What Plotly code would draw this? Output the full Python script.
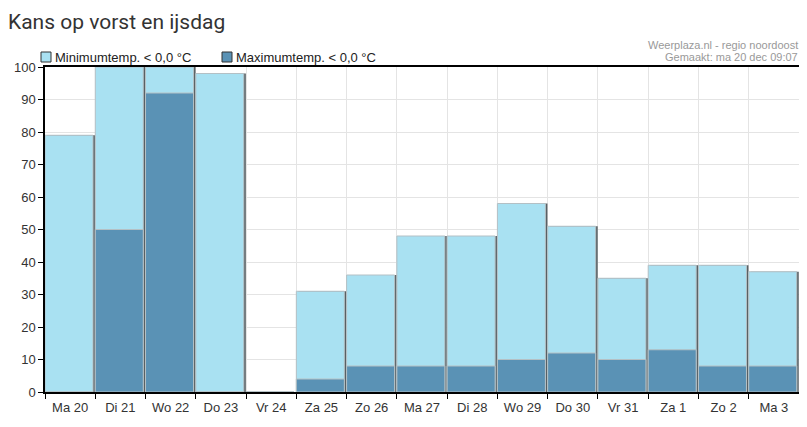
import plotly.graph_objects as go

# dagen en kansen (%)
dagen = ['Ma 20', 'Di 21', 'Wo 22', 'Do 23', 'Vr 24', 'Za 25', 'Zo 26', 'Ma 27',
         'Di 28', 'Wo 29', 'Do 30', 'Vr 31', 'Za 1', 'Zo 2', 'Ma 3']
kans_min = [79, 100, 100, 98, 0, 31, 36, 48, 48, 58, 51, 35, 39, 39, 37]
kans_max = [0, 50, 92, 0, 0, 4, 8, 8, 8, 10, 12, 10, 13, 8, 8]
y_ticks = [0, 10, 20, 30, 40, 50, 60, 70, 80, 90, 100]
namen = ['Minimumtemp. < 0,0 °C', 'Maximumtemp. < 0,0 °C']

licht = '#a9e1f2'
donker = '#5a92b5'
rand = '#b4c0c5'
schaduw = '#586064'

fig = go.Figure()

# schaduw achter de balken
fig.add_trace(go.Bar(
    x=dagen, y=kans_min, width=0.955, offset=-0.46,
    marker=dict(color=schaduw, line=dict(width=0)),
    showlegend=False, hoverinfo='skip'
))
fig.add_trace(go.Bar(
    x=dagen, y=kans_min, width=0.955, offset=-0.5, name=namen[0],
    marker=dict(color=licht, line=dict(color=rand, width=1)), showlegend=False
))
fig.add_trace(go.Bar(
    x=dagen, y=kans_max, width=0.955, offset=-0.5, name=namen[1],
    marker=dict(color=donker, line=dict(color=rand, width=1)), showlegend=False
))

# eigen legenda boven de grafiek
shapes = []
annotations = []
for naam, kleur, dx in zip(namen, [licht, donker], [-4, 177]):
    shapes.append(dict(type='rect', xref='paper', yref='paper',
                       xsizemode='pixel', ysizemode='pixel', xanchor=0, yanchor=1,
                       x0=dx, x1=dx + 10, y0=5, y1=15,
                       fillcolor=kleur, line=dict(color='#333', width=1)))
    annotations.append(dict(text=naam, xref='paper', yref='paper', x=0, y=1,
                            xanchor='left', yanchor='bottom', xshift=dx + 12, yshift=0,
                            showarrow=False, font=dict(size=13, color='#222')))

for tekst, ys in [('Weerplaza.nl - regio noordoost', 14), ('Gemaakt: ma 20 dec 09:07', 2)]:
    annotations.append(dict(text=tekst, xref='paper', yref='paper', x=1.0, y=1.0,
                            xanchor='right', yanchor='bottom', xshift=1, yshift=ys,
                            showarrow=False, font=dict(size=11, color='#999')))

fig.update_layout(
    width=799, height=419,
    barmode='overlay',
    margin=dict(l=37, r=8, t=59, b=35),
    paper_bgcolor='white', plot_bgcolor='white',
    font=dict(family='Liberation Sans, Arial, sans-serif', size=13, color='#333'),
    title=dict(text='Kans op vorst en ijsdag', x=0, xanchor='left', xref='container',
               y=0.967, yanchor='middle',
               font=dict(family='Roboto, sans-serif', size=21, color='#333')),
    showlegend=False,
    xaxis=dict(tickson='boundaries', ticks='outside', ticklen=5, tickcolor='black',
               showgrid=True, gridcolor='#e4e4e4', showline=True, linecolor='black',
               linewidth=1.5, mirror=True, ticklabelstandoff=3, automargin=False,
               tickfont=dict(size=13, color='#333')),
    yaxis=dict(range=[0, 100], tickvals=y_ticks, ticks='outside', ticklen=5,
               tickcolor='black', showgrid=True, gridcolor='#e4e4e4', showline=True,
               linecolor='black', linewidth=1.5, mirror=True, zeroline=False,
               automargin=False, tickfont=dict(size=13, color='#333')),
    shapes=shapes,
    annotations=annotations
)

fig.write_html('out.html')
